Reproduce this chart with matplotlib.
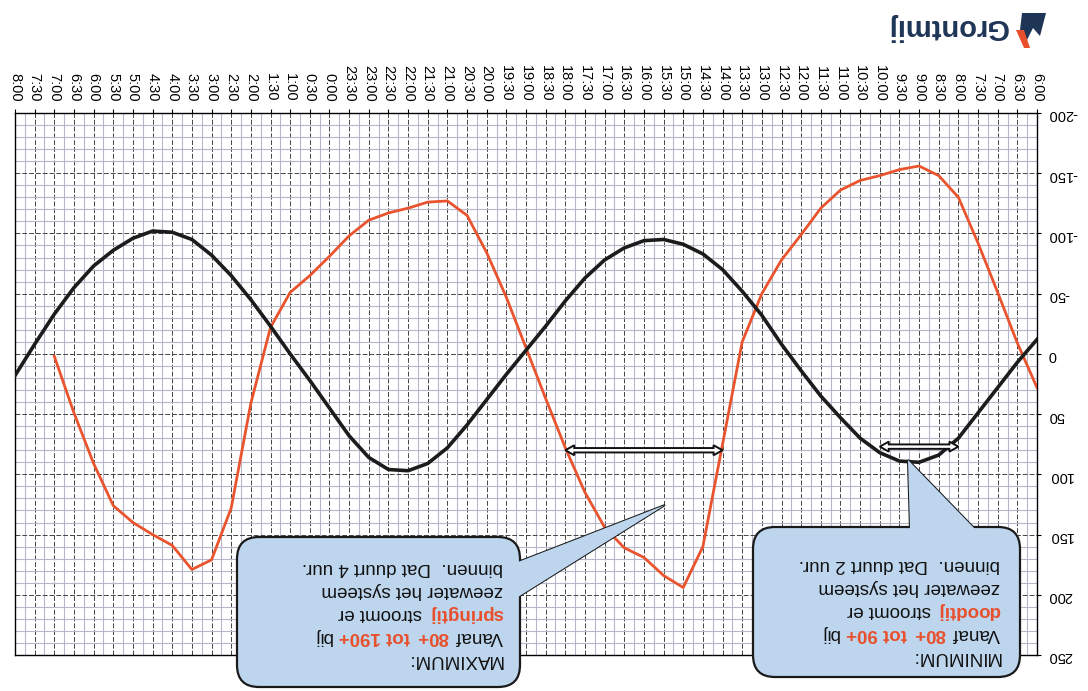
import numpy as np
import matplotlib
matplotlib.use('Agg')
import matplotlib.pyplot as plt
import matplotlib.transforms as mtransforms
from matplotlib.patches import FancyBboxPatch, Polygon

plt.rcParams['font.family'] = ['Liberation Sans', 'DejaVu Sans']

# tijdas: elk half uur van 6:00 tot 8:00 de volgende dag
tijd_labels = ['6:00', '6:30', '7:00', '7:30', '8:00', '8:30', '9:00', '9:30',
               '10:00', '10:30', '11:00', '11:30', '12:00', '12:30', '13:00',
               '13:30', '14:00', '14:30', '15:00', '15:30', '16:00', '16:30',
               '17:00', '17:30', '18:00', '18:30', '19:00', '19:30', '20:00',
               '20:30', '21:00', '21:30', '22:00', '22:30', '23:00', '23:30',
               '0:00', '0:30', '1:00', '1:30', '2:00', '2:30', '3:00', '3:30',
               '4:00', '4:30', '5:00', '5:30', '6:00', '6:30', '7:00', '7:30',
               '8:00']
uren = np.arange(len(tijd_labels)) * 0.5

# zwarte lijn (getij)
zwart = [-12, 7, 28, 49, 70, 84, 90, 89, 82, 70, 53, 35, 14, -8, -32, -52,
         -70, -83, -91, -95, -94, -88, -78, -63, -44, -23, -3, 17, 38, 59, 78,
         91, 97, 96, 86, 68, 45, 22, 0, -23, -45, -65, -82, -95, -101, -102,
         -96, -86, -73, -55, -33, -8, 18]
# rode lijn (stroming), tot 7:00
rood = [28, -9, -51, -92, -130, -148, -156, -153, -148, -144, -136, -121, -99,
        -78, -50, -10, 75, 160, 194, 184, 169, 161, 144, 115, 78, 37, -5, -47,
        -84, -115, -127, -126, -121, -117, -111, -98, -81, -65, -51, -22, 41,
        128, 171, 179, 159, 150, 140, 126, 91, 49, 2]

y_ticks = [-200, -150, -100, -50, 0, 50, 100, 150, 200, 250]

# dubbele pijlen: (begin uur, eind uur, waarde)
pijlen = [(8.0, 12.0, 80), (2.0, 4.0, 77)]

W, H = 1088, 691
fig = plt.figure(figsize=(W / 100, H / 100), dpi=100)
ax = fig.add_axes([15 / W, 1 - 655 / H, 1022 / W, 542 / H])

ax.plot(uren, zwart, color='#1c1c1c', lw=2.6, zorder=4)
ax.plot(uren[:len(rood)], rood, color='#e9542f', lw=2.0, zorder=3)

# hele plaat staat op zijn kop
ax.set_xlim(uren[-1], 0)
ax.set_ylim(250, -200)
ax.xaxis.tick_top()
ax.yaxis.tick_right()
ax.set_xticks(uren)
ax.set_xticklabels(tijd_labels, rotation=270, fontsize=10.5)
ax.set_xticks(np.arange(0, uren[-1] + 0.01, 0.25), minor=True)
ax.set_yticks(y_ticks)
ax.set_yticklabels([str(v) for v in y_ticks], rotation=180, fontsize=10.5)
ax.set_yticks(np.arange(-200, 251, 10), minor=True)
ax.tick_params(which='minor', length=0)
ax.tick_params(which='major', length=3, pad=5)
ax.grid(which='minor', color='#b7b7cb', lw=0.8)
ax.grid(which='major', color='#444444', lw=0.7, ls=(0, (5, 2)))
for s in ax.spines.values():
    s.set_linewidth(1.0)

# holle dubbele pijlen, vorm in pixels rond de eindpunten
for t0, t1, v in pijlen:
    (xa, ya), (xb, yb) = ax.transData.transform([(t1, v), (t0, v)])
    hl, hw, st = 9, 5, 2.2
    pts = [(xa, ya), (xa + hl, ya + hw), (xa + hl, ya + st), (xb - hl, yb + st),
           (xb - hl, yb + hw), (xb, yb), (xb - hl, yb - hw), (xb - hl, yb - st),
           (xa + hl, ya - st), (xa + hl, ya - hw)]
    fig.add_artist(Polygon(pts, closed=True, transform=mtransforms.IdentityTransform(),
                           fc='white', ec='#111111', lw=1.4, zorder=1))

# pixel-coordinaten vanaf linksboven
pix = mtransforms.Affine2D().scale(1, -1).translate(0, H)
blauw = '#bdd6ee'
rand = '#1a1a1a'
rood_txt = '#e8502d'


def ballon(x0, y0, x1, y1, punt):
    p = Polygon(punt, closed=True, transform=pix, fc=blauw, ec=rand, lw=1.5, zorder=1)
    fig.add_artist(p)
    b = FancyBboxPatch((x0, y0), x1 - x0, y1 - y0, boxstyle='round,pad=0,rounding_size=22',
                       transform=pix, fc=blauw, ec=rand, lw=1.6, zorder=1.1)
    fig.add_artist(b)
    p2 = Polygon(punt, closed=True, transform=pix, fc=blauw, ec='none', zorder=1.2)
    fig.add_artist(p2)


ballon(237, 537, 520, 687, [(518, 562), (518, 597), (665, 505)])
ballon(753, 527, 1020, 677, [(910, 529), (975, 529), (908, 460)])

renderer = fig.canvas.get_renderer()


def kop_regel(x, y, delen, size=13.5):
    probe1 = fig.text(0, 0, 'a a', fontsize=size)
    probe2 = fig.text(0, 0, 'aa', fontsize=size)
    spatie = probe1.get_window_extent(renderer).width - probe2.get_window_extent(renderer).width
    probe1.remove()
    probe2.remove()
    off = 0
    for s, kleur, vet in delen:
        tr = pix + mtransforms.Affine2D().translate(-off, 0)
        t = fig.text(x, y, s, transform=tr, rotation=180, rotation_mode='anchor',
                     ha='left', va='baseline', color=kleur, fontsize=size,
                     fontweight='bold' if vet else 'normal', zorder=6)
        off += t.get_window_extent(renderer).width + spatie * 1.3


K = '#111111'
kop_regel(503, 655, [('MAXIMUM:', K, False)])
kop_regel(503, 632, [('Vanaf', K, False), ('80+', rood_txt, True), ('tot 190+', rood_txt, True), ('bij', K, False)])
kop_regel(503, 609, [('springtij', rood_txt, True), ('stroomt er', K, False)])
kop_regel(503, 586, [('zeewater het systeem', K, False)])
kop_regel(503, 563, [('binnen.  Dat duurt 4 uur.', K, False)])

kop_regel(1000, 652, [('MINIMUM:', K, False)])
kop_regel(1000, 629, [('Vanaf', K, False), ('80+', rood_txt, True), ('tot 90+', rood_txt, True), ('bij', K, False)])
kop_regel(1000, 606, [('doodtij', rood_txt, True), ('stroomt er', K, False)])
kop_regel(1000, 583, [('zeewater het systeem', K, False)])
kop_regel(1000, 560, [('binnen.  Dat duurt 2 uur.', K, False)])

# logo
kop_regel(1008, 19, [('Grontmij', '#1f3556', True)], size=21)
fig.add_artist(Polygon([(1022, 13), (1046, 13), (1040, 36), (1033, 28), (1027, 40), (1020, 30)],
                       closed=True, transform=pix, fc='#1f3556', ec='none'))
fig.add_artist(Polygon([(1016, 30), (1024, 30), (1030, 48), (1024, 48)],
                       closed=True, transform=pix, fc='#e8502d', ec='none'))

fig.savefig('out.png', dpi=100)
